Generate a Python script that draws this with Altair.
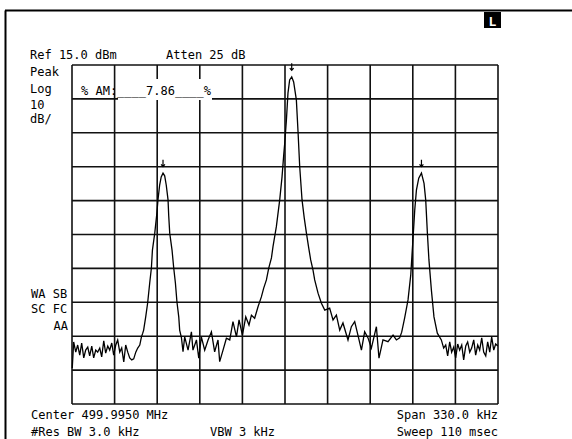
import altair as alt
import pandas as pd

# ---------------- data ----------------
# frequency offset from centre (kHz, centre = 499.9950 MHz, span 330 kHz)
freq_left_noise = [-164.8, -163.7, -162.1, -160.6, -159.0, -157.5, -155.9, -154.4, -152.8, -151.3,
                   -149.7, -148.2, -146.6, -145.1, -143.5, -142.0, -140.4, -138.9, -137.3, -135.8,
                   -134.2, -132.7, -131.1, -129.6, -128.0, -126.5, -124.9, -123.4, -121.8, -120.3,
                   -118.7, -117.2, -115.6, -114.1, -112.5]
level_left_noise = [-74.4, -66.7, -69.7, -67.6, -70.6, -67.0, -71.4, -69.1, -68.2, -70.8,
                    -67.9, -71.4, -69.1, -69.7, -68.5, -71.1, -66.4, -70.0, -67.9, -69.1,
                    -67.0, -70.6, -67.6, -66.1, -69.7, -68.5, -72.6, -67.6, -69.7, -71.4,
                    -72.0, -71.7, -69.7, -68.5, -67.6]

freq_lower_sb = [-111.2, -110.2, -109.5, -107.9, -106.4, -104.8, -103.5, -102.7, -100.9, -99.4,
                 -98.4, -97.1, -95.9, -94.5, -93.2, -92.0, -90.6, -90.1, -89.3, -87.5,
                 -86.2, -84.9, -83.7, -82.3, -81.6, -80.2]
level_lower_sb = [-65.2, -64.1, -63.2, -59.3, -55.2, -49.3, -44.9, -39.6, -34.6, -29.3,
                  -24.8, -20.4, -18.0, -16.9, -17.7, -20.4, -24.8, -29.3, -34.6, -39.6,
                  -44.9, -49.3, -54.9, -59.3, -63.2, -65.5]

freq_carrier = [-79.0, -77.7, -75.1, -72.5, -71.3, -68.6, -66.8, -64.8, -62.2, -59.6,
                -57.0, -54.5, -51.9, -50.6, -48.0, -45.4, -42.8, -40.3, -37.6, -35.6,
                -33.0, -30.4, -27.9, -26.0, -23.5, -20.9, -18.3, -16.5, -14.4, -12.6,
                -10.5, -9.3, -6.7, -4.1, -2.3, -1.0, -0.2, 1.1, 2.3, 3.6,
                5.2, 6.7, 8.8, 10.1, 11.4, 13.2, 14.9, 16.6, 18.4, 19.9,
                21.7, 23.0, 25.6, 28.2, 30.8, 34.6, 37.2, 39.8, 42.4, 44.9,
                48.8, 51.4, 54.0, 56.5, 59.2, 61.7, 64.3, 66.9, 70.8, 72.8,
                75.9, 79.8, 83.7, 86.3, 88.8]
level_carrier = [-69.6, -65.2, -69.1, -63.7, -69.1, -66.1, -71.5, -65.2, -69.1, -66.1,
                 -63.7, -69.6, -66.1, -72.5, -69.1, -65.6, -66.1, -60.7, -65.2, -60.2,
                 -64.7, -59.3, -61.7, -58.8, -59.7, -56.3, -53.4, -50.8, -48.4, -44.9,
                 -41.9, -38.6, -32.7, -24.8, -18.0, -11.6, -8.0, -1.2, 6.7, 10.6,
                 11.5, 10.0, 4.7, -4.7, -15.0, -24.8, -30.1, -34.6, -39.0, -42.5,
                 -45.5, -48.4, -52.3, -55.3, -57.3, -56.7, -60.2, -58.8, -63.2, -61.1,
                 -66.1, -62.2, -60.7, -64.7, -69.1, -63.7, -65.5, -68.5, -62.2, -71.5,
                 -66.1, -66.6, -64.7, -66.1, -65.5]

freq_upper_sb = [90.4, 92.7, 95.3, 97.4, 99.1, 100.5, 101.8, 103.6, 105.7, 107.7,
                 109.0, 110.3, 111.5, 113.4, 115.4, 118.0, 121.1]
level_upper_sb = [-63.8, -59.6, -54.3, -47.0, -36.6, -27.8, -21.9, -18.4, -16.9, -19.9,
                  -24.8, -34.6, -42.5, -51.4, -59.3, -64.1, -66.1]

freq_right_noise = [122.9, 124.5, 126.0, 127.6, 129.1, 130.7, 132.2, 133.8, 135.3, 136.9,
                    138.4, 140.0, 141.5, 143.1, 144.6, 146.2, 147.7, 149.3, 150.8, 152.4,
                    153.9, 155.5, 157.0, 158.6, 160.1, 161.7, 163.2, 164.8]
level_right_noise = [-68.5, -67.6, -70.8, -66.7, -69.7, -68.2, -71.4, -67.3, -69.1, -67.6,
                     -72.0, -67.9, -66.7, -69.7, -68.5, -66.1, -70.6, -67.6, -69.1, -65.5,
                     -69.7, -70.8, -66.7, -69.7, -65.2, -69.1, -67.3, -67.9]

marker_freq = [-94.5, 5.2, 105.7]
marker_level = [-16.9, 11.5, -16.9]

grid_freq = [-165, -132, -99, -66, -33, 0, 33, 66, 99, 132, 165]
grid_level = [-85, -75, -65, -55, -45, -35, -25, -15, -5, 5, 15]

# ---------------- layout constants ----------------
W, H = 426, 339
PL, PT = 72, 65
FONT = "DejaVu Sans Mono"

freq = freq_left_noise + freq_lower_sb + freq_carrier + freq_upper_sb + freq_right_noise
level = level_left_noise + level_lower_sb + level_carrier + level_upper_sb + level_right_noise
trace = pd.DataFrame({"f": freq, "p": level, "i": list(range(len(freq)))})

xs = alt.Scale(domain=[-165, 165], nice=False, zero=False)
ys = alt.Scale(domain=[-85, 15], nice=False, zero=False)

one = pd.DataFrame({"a": [0]})

vgrid = alt.Chart(pd.DataFrame({"f": grid_freq})).mark_rule(
    color="#111111", strokeWidth=1.6).encode(x=alt.X("f:Q", scale=xs, axis=None))
hgrid = alt.Chart(pd.DataFrame({"p": grid_level})).mark_rule(
    color="#111111", strokeWidth=1.6).encode(y=alt.Y("p:Q", scale=ys, axis=None))

line = alt.Chart(trace).mark_line(color="black", strokeWidth=1.3, interpolate="linear").encode(
    x=alt.X("f:Q", scale=xs, axis=None),
    y=alt.Y("p:Q", scale=ys, axis=None),
    order="i:Q",
)

ARROW = "M0,-1L0,1M-0.55,0.35L0,1L0.55,0.35"
markers = alt.Chart(pd.DataFrame({"f": marker_freq, "p": marker_level})).mark_point(
    shape=ARROW, filled=False, stroke="black", strokeWidth=1.2, size=49, yOffset=-10, opacity=1
).encode(x=alt.X("f:Q", scale=xs, axis=None), y=alt.Y("p:Q", scale=ys, axis=None))


def label(txt, X, Y, align="left", size=12, color="black", weight="normal", font=FONT):
    return alt.Chart(one).mark_text(
        text=txt, align=align, baseline="alphabetic", font=font,
        fontSize=size, color=color, fontWeight=weight,
    ).encode(x=alt.value(X - PL), y=alt.value(Y - PT))


def box(X1, X2, Y1, Y2, color):
    return alt.Chart(one).mark_rect(color=color).encode(
        x=alt.value(X1 - PL), x2=alt.value(X2 - PL),
        y=alt.value(Y1 - PT), y2=alt.value(Y2 - PT))


def seg(X1, X2, Y1, Y2, width=2):
    return alt.Chart(one).mark_rule(color="black", strokeWidth=width).encode(
        x=alt.value(X1 - PL), x2=alt.value(X2 - PL),
        y=alt.value(Y1 - PT), y2=alt.value(Y2 - PT))


left_labels = [
    ("Ref 15.0 dBm", 30, 59),
    ("Atten 25 dB", 166, 59),
    ("Peak", 30, 76),
    ("Log", 30, 93),
    ("10", 30, 108.5),
    ("dB/", 30, 123),
    ("WA SB", 31, 298),
    ("SC FC", 31, 313),
    ("Center 499.9950 MHz", 31, 419),
    ("#Res BW 3.0 kHz", 31, 436),
    ("VBW 3 kHz", 210, 436),
]
right_labels = [
    ("AA", 68, 330),
    ("Span 330.0 kHz", 498, 419),
    ("Sweep 110 msec", 498, 436),
]

layers = [vgrid, hgrid, line, markers,
          box(118, 212, 79, 100, "white"),
          label("% AM:____7.86____%", 81, 95),
          box(484, 501, 12, 28, "black"),
          label("L", 492.5, 26, align="center", size=13, color="white", weight="bold"),
          seg(5, 572, 10.5, 10.5),
          seg(5.5, 5.5, 10.5, 439)]
layers += [label(t, x, y) for t, x, y in left_labels]
layers += [label(t, x, y, align="right") for t, x, y in right_labels]

chart = alt.layer(*layers).properties(
    width=W, height=H,
    padding={"left": PL, "top": PT, "right": 572 - PL - W, "bottom": 439 - PT - H},
    autosize=alt.AutoSizeParams(type="none"),
    background="white",
).configure_view(stroke=None)

chart.save("out.html", embed_options={"renderer": "svg", "actions": False})
